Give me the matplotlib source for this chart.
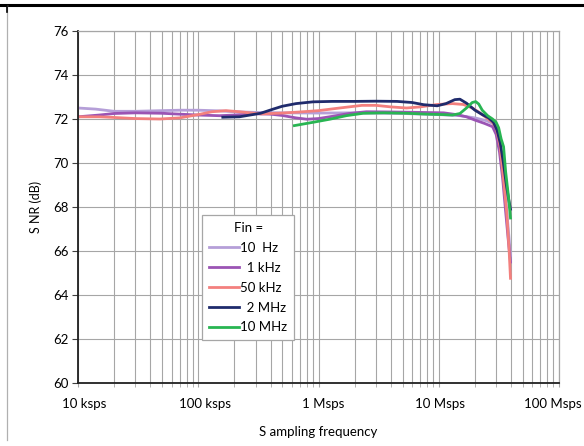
import numpy as np
import matplotlib
matplotlib.use('Agg')
import matplotlib.pyplot as plt
import matplotlib.transforms as mtransforms
from matplotlib.lines import Line2D
from matplotlib.ticker import FixedLocator, LogLocator, NullFormatter

plt.rcParams['font.family'] = ['Lato', 'DejaVu Sans']

# sampling frequency (sps) and SNR (dB) per input frequency
f_10hz = [1e4, 1.4e4, 2e4, 3e4, 5e4, 7e4, 1e5, 1.5e5, 2e5, 3e5, 5e5, 1e6, 2e6, 5e6, 1e7, 1.5e7,
          2e7, 2.5e7, 2.8e7, 3e7, 3.2e7, 3.4e7, 3.6e7, 3.8e7, 3.95e7]
snr_10hz = [72.5, 72.45, 72.35, 72.35, 72.38, 72.4, 72.4, 72.37, 72.33, 72.3, 72.28, 72.27, 72.28, 72.25, 72.2, 72.15,
            72.05, 71.92, 71.8, 71.6, 71.0, 69.9, 68.4, 66.9, 65.8]

f_1khz = [1e4, 1.5e4, 2e4, 3e4, 5e4, 7e4, 1e5, 1.5e5, 2e5, 3e5, 4e5, 5e5, 6.5e5, 8e5, 1e6, 1.3e6, 1.8e6,
          2.5e6, 4e6, 7e6, 1.1e7, 1.4e7, 1.7e7, 2e7, 2.4e7, 2.8e7, 3e7, 3.2e7, 3.4e7, 3.6e7, 3.8e7, 3.95e7]
snr_1khz = [72.1, 72.18, 72.25, 72.28, 72.26, 72.22, 72.18, 72.15, 72.18, 72.24, 72.22, 72.16, 72.05, 71.99, 72.02, 72.12, 72.25,
            72.33, 72.32, 72.3, 72.28, 72.2, 72.1, 71.95, 71.8, 71.65, 71.3, 70.5, 69.3, 67.8, 66.4, 65.5]

f_50khz = [1e4, 1.5e4, 2e4, 3e4, 4.8e4, 7e4, 1e5, 1.3e5, 1.7e5, 2.2e5, 3.3e5, 5e5, 7e5, 1e6, 1.5e6, 2.3e6,
           3e6, 4e6, 5.4e6, 7e6, 9.7e6, 1.3e7, 1.6e7, 1.9e7, 2.2e7, 2.5e7, 2.8e7, 3e7, 3.24e7, 3.45e7, 3.68e7,
           3.85e7, 3.95e7]
snr_50khz = [72.1, 72.1, 72.07, 72.02, 72.0, 72.05, 72.2, 72.33, 72.38, 72.33, 72.23, 72.27, 72.32, 72.38, 72.5, 72.62,
             72.62, 72.55, 72.5, 72.55, 72.66, 72.7, 72.66, 72.5, 72.28, 72.05, 71.85, 71.6, 70.74, 69.3, 67.7,
             66.0, 64.76]

f_2mhz = [1.6e5, 2.2e5, 3.3e5, 4.2e5, 5e5, 6.5e5, 9e5, 1.3e6, 2e6, 3e6, 4.5e6, 6e6, 7.5e6, 9.7e6, 1.15e7,
          1.36e7, 1.5e7, 1.7e7, 2e7, 2.3e7, 2.6e7, 2.85e7, 3.05e7, 3.25e7, 3.45e7, 3.65e7, 3.8e7, 3.95e7]
snr_2mhz = [72.08, 72.1, 72.26, 72.45, 72.58, 72.7, 72.78, 72.8, 72.8, 72.81, 72.8, 72.75, 72.65, 72.6, 72.7,
            72.88, 72.9, 72.72, 72.4, 72.2, 72.05, 71.85, 71.5, 70.9, 70.0, 69.0, 68.4, 67.9]

f_10mhz = [6.3e5, 9e5, 1.24e6, 1.7e6, 2.35e6, 3.5e6, 5.4e6, 8e6, 1.1e7, 1.3e7, 1.5e7, 1.7e7, 1.9e7, 2.03e7,
           2.15e7, 2.3e7, 2.55e7, 2.8e7, 3e7, 3.15e7, 3.3e7, 3.46e7, 3.6e7, 3.8e7, 3.95e7]
snr_10mhz = [71.7, 71.85, 71.99, 72.15, 72.26, 72.28, 72.26, 72.22, 72.2, 72.18, 72.25, 72.5, 72.75, 72.79,
             72.68, 72.4, 72.15, 72.0, 71.85, 71.6, 71.1, 70.74, 69.6, 68.47, 67.5]

series = [
    ('10  Hz', f_10hz, snr_10hz, '#b59fd8'),
    ('  1 kHz', f_1khz, snr_1khz, '#9b54b4'),
    ('50 kHz', f_50khz, snr_50khz, '#f3807e'),
    ('  2 MHz', f_2mhz, snr_2mhz, '#1f2b6c'),
    ('10 MHz', f_10mhz, snr_10mhz, '#28b552'),
]

x_ticks = [1e4, 1e5, 1e6, 1e7, 1e8]
x_labels = ['10 ksps', '100 ksps', '1 Msps', '10 Msps', '100 Msps']
y_ticks = [60, 62, 64, 66, 68, 70, 72, 74, 76]

fig = plt.figure(figsize=(5.84, 4.46), dpi=100)
ax = fig.add_axes([78 / 584, 1 - 383 / 446, 481 / 584, 352 / 446])

for label, f, s, c in series:
    ax.plot(f, s, color=c, lw=2.0, label=label, solid_joinstyle='round')

ax.set_xscale('log')
ax.set_xlim(1e4, 1e8)
ax.set_ylim(60, 76)
ax.xaxis.set_major_locator(FixedLocator(x_ticks))
ax.set_xticks(x_ticks, x_labels)
ax.xaxis.set_minor_locator(LogLocator(base=10, subs=np.arange(2, 10)))
ax.xaxis.set_minor_formatter(NullFormatter())
ax.set_yticks(y_ticks)

ax.grid(True, which='both', axis='x', color='#a6a6a6', lw=0.8)
ax.grid(True, which='major', axis='y', color='#a6a6a6', lw=0.8)
ax.set_axisbelow(True)

ax.tick_params(axis='x', which='both', length=3, color='#a6a6a6', labelsize=9.5, pad=8)
ax.tick_params(axis='y', which='major', length=4, color='#404040', labelsize=9.5, pad=3)

# nudge x labels like the original (outer ones pulled inward)
shifts = [6, 7, 5, 1, -6]
for lab, dx in zip(ax.get_xticklabels(), shifts):
    lab.set_transform(lab.get_transform() + mtransforms.ScaledTranslation(dx / 100, 0, fig.dpi_scale_trans))

for side in ['top', 'right']:
    ax.spines[side].set_color('#a6a6a6')
    ax.spines[side].set_linewidth(0.9)
for side in ['left', 'bottom']:
    ax.spines[side].set_color('#202020')
    ax.spines[side].set_linewidth(1.3)

ax.set_xlabel('S ampling frequency', fontsize=9.5, labelpad=11)
ax.set_ylabel('S NR (dB)', fontsize=9, labelpad=8)

leg = ax.legend(title='Fin =', loc='lower left', bbox_to_anchor=(0.258, 0.122), borderaxespad=0,
                fontsize=9.5, title_fontsize=9.5, frameon=True, fancybox=False,
                edgecolor='#a6a6a6', framealpha=1, handlelength=2.3, handletextpad=0.1,
                labelspacing=0.6, borderpad=0.5)
leg.get_frame().set_linewidth(0.9)

# page frame bits around the chart
fig.add_artist(Line2D([0, 1], [1 - 5 / 446, 1 - 5 / 446], color='black', lw=2.2))
fig.add_artist(Line2D([7 / 584, 7 / 584], [1 - 440 / 446, 1 - 5 / 446], color='#b0b0b0', lw=0.9))
fig.add_artist(Line2D([7 / 584, 7 / 584], [1 - 12 / 446, 1 - 5 / 446], color='black', lw=1.2))

fig.savefig('out.png', dpi=100)
